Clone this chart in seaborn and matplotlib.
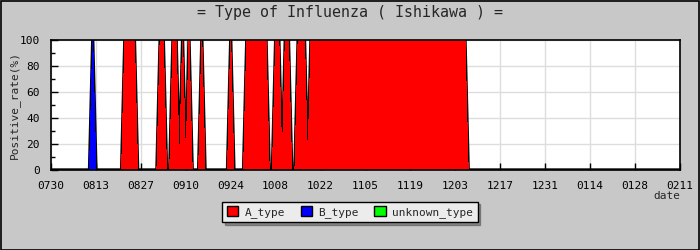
import numpy as np
import pandas as pd
import matplotlib
matplotlib.use("Agg")
import matplotlib.pyplot as plt
import matplotlib.patches as mpatches
import seaborn as sns

# ---- data (daily positive rate, day 0 = 07/30) ----
tick_labels = ["0730", "0813", "0827", "0910", "0924", "1008", "1022", "1105",
               "1119", "1203", "1217", "1231", "0114", "0128", "0211"]
series_names = ["A_type", "B_type", "unknown_type"]
series_colors = ["#ff0000", "#0000ff", "#00ff00"]

a_type = [
    0, 0, 0, 0, 0, 0, 0, 0, 0, 0, 0, 0, 0, 0,
    0, 0, 0, 0, 0, 0, 0, 0, 0, 100, 100, 100, 100, 0,
    0, 0, 0, 0, 0, 0, 100, 100, 0, 0, 100, 100, 0, 100,
    0, 100, 0, 0, 0, 100, 0, 0, 0, 0, 0, 0, 0, 0,
    100, 0, 0, 0, 0, 100, 100, 100, 100, 100, 100, 100, 0, 0,
    100, 100, 0, 100, 100, 0, 0, 100, 100, 100, 0, 100, 100, 100,
    100, 100, 100, 100, 100, 100, 100, 100, 100, 100, 100, 100, 100, 100,
    100, 100, 100, 100, 100, 100, 100, 100, 100, 100, 100, 100, 100, 100,
    100, 100, 100, 100, 100, 100, 100, 100, 100, 100, 100, 100, 100, 100,
    100, 100, 100, 100, 0, 0, 0, 0, 0, 0, 0, 0, 0, 0,
    0, 0, 0, 0, 0, 0, 0, 0, 0, 0, 0, 0, 0, 0,
    0, 0, 0, 0, 0, 0, 0, 0, 0, 0, 0, 0, 0, 0,
    0, 0, 0, 0, 0, 0, 0, 0, 0, 0, 0, 0, 0, 0,
    0, 0, 0, 0, 0, 0, 0, 0, 0, 0, 0, 0, 0, 0,
    0,
]
b_type = [
    0, 0, 0, 0, 0, 0, 0, 0, 0, 0, 0, 0, 0, 100,
    0, 0, 0, 0, 0, 0, 0, 0, 0, 0, 0, 0, 0, 0,
    0, 0, 0, 0, 0, 0, 0, 0, 0, 0, 0, 0, 0, 0,
    0, 0, 0, 0, 0, 0, 0, 0, 0, 0, 0, 0, 0, 0,
    0, 0, 0, 0, 0, 0, 0, 0, 0, 0, 0, 0, 0, 0,
    0, 0, 0, 0, 0, 0, 0, 0, 0, 0, 0, 0, 0, 0,
    0, 0, 0, 0, 0, 0, 0, 0, 0, 0, 0, 0, 0, 0,
    0, 0, 0, 0, 0, 0, 0, 0, 0, 0, 0, 0, 0, 0,
    0, 0, 0, 0, 0, 0, 0, 0, 0, 0, 0, 0, 0, 0,
    0, 0, 0, 0, 0, 0, 0, 0, 0, 0, 0, 0, 0, 0,
    0, 0, 0, 0, 0, 0, 0, 0, 0, 0, 0, 0, 0, 0,
    0, 0, 0, 0, 0, 0, 0, 0, 0, 0, 0, 0, 0, 0,
    0, 0, 0, 0, 0, 0, 0, 0, 0, 0, 0, 0, 0, 0,
    0, 0, 0, 0, 0, 0, 0, 0, 0, 0, 0, 0, 0, 0,
    0,
]
unknown_type = [0] * 197

# ---- styling ----
sns.set_style("white")
mono = ["DejaVu Sans Mono"]
plt.rcParams["font.family"] = mono

BG = "#c8c8c8"
fig = plt.figure(figsize=(7, 2.5), dpi=100, facecolor=BG)
ax = fig.add_axes([51 / 700, 80 / 250, 629 / 700, 130 / 250])
ax.set_facecolor("white")

days = np.arange(len(a_type))
df = pd.DataFrame({"day": days, "A_type": a_type, "B_type": b_type,
                   "unknown_type": unknown_type})

# gridlines
ax.set_axisbelow(True)
ax.grid(True, color="#dddddd", linewidth=1)

# black outline of the stacked area (drawn underneath the fills)
cum_vals = df["A_type"] + df["B_type"] + df["unknown_type"]
cum = pd.DataFrame({"day": days, "top": cum_vals})
sns.lineplot(data=cum, x="day", y="top", ax=ax, color="black",
             linewidth=2.4, legend=False, zorder=2)

base = np.zeros(len(days), dtype=float)
for name, col in zip(series_names, series_colors):
    vals = df[name].to_numpy(dtype=float)
    top = base + vals
    if vals.any():
        ax.fill_between(df["day"], base, top, facecolor=col, edgecolor="none",
                        linewidth=0, antialiased=False, zorder=3)
    base = top

ax.set_xlim(0, 196)
ax.set_ylim(0, 100)
ax.set_xticks(np.arange(0, 197, 14))
ax.set_xticklabels(tick_labels, fontsize=8)
ax.set_yticks(np.arange(0, 101, 20))
ax.set_yticklabels([str(v) for v in range(0, 101, 20)], fontsize=8)
ax.set_yticks(np.arange(10, 100, 20), minor=True)
ax.tick_params(axis="both", which="major", direction="in", length=5, width=1,
               color="black", pad=8, labelcolor="black")
ax.tick_params(axis="y", which="minor", direction="in", length=3, width=1,
               color="black")
ax.tick_params(axis="x", which="major", bottom=True)
ax.tick_params(axis="y", which="both", left=True)
for s in ax.spines.values():
    s.set_color("black")
    s.set_linewidth(1.2)
    s.set_zorder(5)

ax.set_xlabel("")
ax.set_ylabel("Positive_rate(%)", fontsize=8)
ax.yaxis.set_label_coords((20 - 51) / 629, 0.5)
fig.text(680 / 700, 1 - 196 / 250, "date", ha="right", va="center", fontsize=8)
fig.text(0.5, 1 - 13 / 250, "= Type of Influenza ( Ishikawa ) =",
         ha="center", va="center", fontsize=10.8)

handles = [mpatches.Patch(facecolor=c, edgecolor="black", linewidth=1, label=n)
           for n, c in zip(series_names, series_colors)]
leg = fig.legend(handles=handles, loc="center", bbox_to_anchor=(0.5, 1 - 212 / 250),
                 ncol=3, fontsize=8, frameon=True, fancybox=False, shadow=True,
                 handlelength=1.0, handleheight=1.0, handletextpad=0.6,
                 columnspacing=1.4, borderpad=0.4)
leg.get_frame().set_facecolor("#ececec")
leg.get_frame().set_edgecolor("black")
leg.get_frame().set_linewidth(1)

fig.patches.append(mpatches.Rectangle((0.001, 0.002), 0.997, 0.996,
                                      transform=fig.transFigure, fill=False,
                                      edgecolor="black", linewidth=1.2))

fig.savefig("out.png", dpi=100, facecolor=BG)
